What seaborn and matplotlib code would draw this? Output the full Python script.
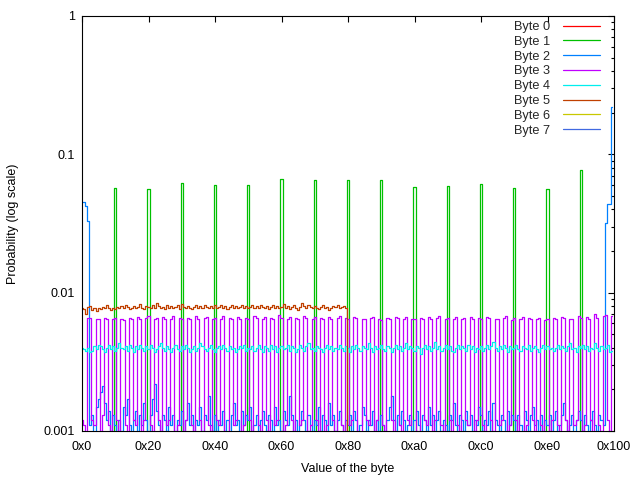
import numpy as np
import pandas as pd
import matplotlib
matplotlib.use("Agg")
import matplotlib.pyplot as plt
import seaborn as sns

sns.set_theme(style="white")
plt.rcParams['font.family'] = ['Liberation Sans', 'DejaVu Sans']

# ---------------- data ----------------
byte_values = list(range(256))
series_names = ["Byte 0", "Byte 1", "Byte 2", "Byte 3", "Byte 4", "Byte 5", "Byte 6", "Byte 7"]
series_colors = ["#ff0000", "#00c000", "#0080ff", "#c000ff", "#00eeee", "#c04000", "#c8c800", "#4169e1"]

# values below 0.001 are not readable in the picture -> stored as 0
byte0 = [0.0] * 256
byte6 = [0.0] * 256
byte7 = [0.0] * 256

byte1_spike_positions = [0x10, 0x20, 0x30, 0x40, 0x50, 0x60, 0x70, 0x80,
                         0x90, 0xa0, 0xb0, 0xc0, 0xd0, 0xe0, 0xf0]
byte1_spike_values = [0.0568, 0.0558, 0.0617, 0.0597, 0.0597, 0.0660, 0.0649, 0.0649,
                      0.0649, 0.0577, 0.0587, 0.0607, 0.0568, 0.0558, 0.0766]
byte1 = [0.0] * 256
for p, v in zip(byte1_spike_positions, byte1_spike_values):
    byte1[p] = v

byte2 = [
    .045, .045, .042, .033, .0011, .0013, .0009, .0015, .0017, .0019, .0021, .0016, .0012, .0014, .0010, .0013,
    .0011, .0009, .0012, .0010, .0015, .0013, .0017, .0011, .0009, .0012, .0014, .0010, .0013, .0011, .0016, .0012,
    .0010, .0013, .0017, .0022, .0014, .0011, .0009, .0013, .0012, .0010, .0015, .0011, .0013, .0009, .0012, .0011,
    .0014, .0010, .0012, .0016, .0011, .0013, .0009, .0012, .0011, .0015, .0010, .0013, .0012, .0018, .0011, .0010,
    .0013, .0009, .0012, .0011, .0014, .0010, .0012, .0009, .0013, .0016, .0011, .0012, .0010, .0014, .0011, .0013,
    .0012, .0015, .0010, .0011, .0013, .0009, .0012, .0014, .0011, .0010, .0013, .0012, .0009, .0015, .0011, .0012,
    .0010, .0014, .0012, .0011, .0018, .0013, .0010, .0012, .0009, .0011, .0014, .0012, .0010, .0013, .0011, .0009,
    .0012, .0011, .0015, .0010, .0013, .0012, .0009, .0016, .0011, .0013, .0010, .0012, .0014, .0011, .0009, .0012,
    .0011, .0013, .0010, .0014, .0012, .0009, .0011, .0015, .0013, .0010, .0012, .0011, .0014, .0009, .0012, .0010,
    .0013, .0011, .0009, .0012, .0015, .0018, .0012, .0010, .0013, .0011, .0014, .0012, .0009, .0011, .0013, .0010,
    .0012, .0014, .0011, .0009, .0013, .0012, .0010, .0015, .0011, .0013, .0009, .0012, .0014, .0010, .0012, .0011,
    .0010, .0013, .0012, .0016, .0011, .0009, .0013, .0012, .0010, .0014, .0011, .0013, .0009, .0012, .0011, .0015,
    .0013, .0010, .0012, .0011, .0014, .0009, .0016, .0012, .0011, .0010, .0013, .0012, .0009, .0014, .0011, .0013,
    .0012, .0010, .0013, .0011, .0009, .0014, .0012, .0010, .0013, .0015, .0011, .0012, .0009, .0013, .0010, .0012,
    .0011, .0013, .0010, .0012, .0014, .0009, .0011, .0013, .0016, .0012, .0010, .0011, .0013, .0009, .0012, .0014,
    .0012, .0010, .0013, .0011, .0009, .0012, .0014, .0011, .0010, .0013, .0012, .0011, .032, .044, .044, .22,
]

byte3 = [
    .0012, .0011, .0009, .0066, .0066, .0012, .0011, .0065, .0064, .0010, .0013, .0066, .0065, .0011, .0010, .0065,
    .0066, .0012, .0010, .0065, .0063, .0011, .0009, .0066, .0064, .0012, .0011, .0067, .0065, .0010, .0012, .0066,
    .0068, .0011, .0009, .0065, .0066, .0012, .0010, .0067, .0064, .0011, .0012, .0065, .0068, .0010, .0011, .0066,
    .0065, .0009, .0012, .0066, .0064, .0011, .0010, .0068, .0065, .0012, .0009, .0066, .0067, .0011, .0010, .0065,
    .0066, .0012, .0011, .0064, .0068, .0010, .0009, .0066, .0065, .0011, .0012, .0067, .0064, .0010, .0011, .0066,
    .0065, .0012, .0010, .0068, .0066, .0011, .0009, .0065, .0067, .0012, .0010, .0066, .0064, .0011, .0012, .0069,
    .0066, .0010, .0011, .0065, .0067, .0012, .0009, .0066, .0064, .0011, .0012, .0068, .0066, .0010, .0011, .0065,
    .0067, .0012, .0010, .0066, .0064, .0009, .0011, .0067, .0065, .0012, .0010, .0066, .0068, .0011, .0009, .0066,
    .0065, .0011, .0012, .0067, .0066, .0010, .0009, .0065, .0064, .0012, .0011, .0066, .0067, .0010, .0012, .0065,
    .0063, .0011, .0010, .0066, .0065, .0012, .0009, .0067, .0066, .0011, .0010, .0064, .0067, .0012, .0011, .0065,
    .0064, .0010, .0009, .0066, .0065, .0012, .0011, .0067, .0064, .0010, .0012, .0066, .0068, .0011, .0009, .0065,
    .0066, .0012, .0010, .0064, .0067, .0011, .0009, .0065, .0066, .0012, .0011, .0067, .0064, .0010, .0012, .0066,
    .0065, .0011, .0009, .0067, .0066, .0012, .0010, .0064, .0065, .0011, .0012, .0066, .0068, .0010, .0011, .0063,
    .0066, .0012, .0010, .0065, .0067, .0009, .0011, .0066, .0064, .0012, .0010, .0065, .0066, .0011, .0009, .0063,
    .0064, .0010, .0012, .0066, .0065, .0011, .0009, .0067, .0066, .0012, .0010, .0064, .0065, .0011, .0012, .0068,
    .0066, .0010, .0011, .0067, .0064, .0012, .0009, .0070, .0066, .0011, .0010, .0068, .0069, .0012, .0010, .0068,
]

byte4 = [
    .0040, .0039, .0038, .0040, .0037, .0038, .0041, .0039, .0042, .0041, .0039, .0037, .0040, .0042, .0039, .0041,
    .0038, .0040, .0043, .0040, .0039, .0041, .0038, .0042, .0040, .0037, .0041, .0039, .0042, .0040, .0038, .0041,
    .0039, .0042, .0040, .0037, .0039, .0041, .0043, .0040, .0038, .0041, .0039, .0037, .0040, .0042, .0039, .0038,
    .0041, .0039, .0042, .0040, .0037, .0039, .0041, .0038, .0040, .0043, .0041, .0039, .0038, .0040, .0042, .0039,
    .0037, .0040, .0041, .0039, .0042, .0040, .0038, .0041, .0039, .0040, .0037, .0039, .0041, .0040, .0042, .0038,
    .0040, .0039, .0041, .0038, .0040, .0042, .0039, .0037, .0041, .0040, .0038, .0042, .0039, .0041, .0037, .0040,
    .0041, .0039, .0040, .0042, .0038, .0041, .0040, .0037, .0039, .0042, .0040, .0038, .0041, .0043, .0039, .0040,
    .0038, .0041, .0040, .0039, .0037, .0040, .0042, .0039, .0041, .0038, .0040, .0039, .0042, .0040, .0038, .0041,
    .0040, .0037, .0041, .0039, .0042, .0040, .0038, .0041, .0040, .0039, .0043, .0040, .0037, .0041, .0039, .0040,
    .0042, .0039, .0038, .0041, .0040, .0037, .0040, .0042, .0039, .0041, .0038, .0040, .0043, .0039, .0041, .0040,
    .0038, .0041, .0040, .0036, .0040, .0042, .0039, .0041, .0038, .0040, .0044, .0039, .0041, .0038, .0040, .0042,
    .0039, .0041, .0038, .0037, .0040, .0042, .0039, .0041, .0040, .0038, .0042, .0039, .0041, .0037, .0040, .0039,
    .0041, .0038, .0040, .0042, .0039, .0041, .0044, .0040, .0038, .0041, .0039, .0042, .0040, .0037, .0041, .0039,
    .0040, .0042, .0039, .0038, .0041, .0040, .0039, .0042, .0038, .0040, .0041, .0039, .0037, .0040, .0042, .0039,
    .0041, .0039, .0040, .0038, .0040, .0042, .0039, .0041, .0040, .0038, .0041, .0043, .0039, .0040, .0037, .0041,
    .0040, .0042, .0039, .0041, .0038, .0040, .0039, .0043, .0040, .0038, .0041, .0039, .0040, .0042, .0037, .0038,
]

byte5 = [
    .0077, .0076, .0070, .0079, .0080, .0075, .0077, .0074, .0078, .0076, .0079, .0078, .0081, .0077, .0075, .0078,
    .0076, .0079, .0078, .0080, .0077, .0082, .0079, .0076, .0078, .0080, .0077, .0079, .0083, .0078, .0076, .0080,
    .0079, .0077, .0081, .0078, .0084, .0080, .0077, .0079, .0076, .0082, .0078, .0080, .0077, .0079, .0081, .0076,
    .0083, .0079, .0077, .0080, .0078, .0076, .0079, .0081, .0077, .0080, .0078, .0082, .0079, .0077, .0080, .0078,
    .0081, .0077, .0079, .0082, .0078, .0080, .0076, .0079, .0081, .0078, .0080, .0077, .0079, .0082, .0078, .0080,
    .0077, .0079, .0081, .0078, .0080, .0077, .0082, .0079, .0078, .0080, .0076, .0079, .0081, .0078, .0080, .0077,
    .0079, .0083, .0078, .0080, .0076, .0079, .0081, .0077, .0075, .0079, .0084, .0080, .0078, .0081, .0079, .0077,
    .0080, .0078, .0076, .0079, .0081, .0077, .0079, .0075, .0078, .0080, .0079, .0081, .0077, .0079, .0080, .0078,
] + [0.0] * 128

series_values = [byte0, byte1, byte2, byte3, byte4, byte5, byte6, byte7]

xtick_positions = [0, 32, 64, 96, 128, 160, 192, 224, 256]
xtick_labels = ["0x0", "0x20", "0x40", "0x60", "0x80", "0xa0", "0xc0", "0xe0", "0x100"]
ytick_positions = [0.001, 0.01, 0.1, 1]
ytick_labels = ["0.001", "0.01", "0.1", "1"]

# ---------------- plot ----------------
fig = plt.figure(figsize=(6.4, 4.8), dpi=100)
ax = fig.add_axes([82 / 640, 49 / 480, 532 / 640, 415 / 480])

FLOOR = 1e-6
for name, vals, col in zip(series_names, series_values, series_colors):
    y = np.maximum(np.asarray(vals, dtype=float), FLOOR)
    sns.lineplot(x=byte_values, y=y, color=col, label=name, drawstyle="steps-mid",
                 linewidth=0.9, ax=ax, legend=False)

ax.set_yscale("log")
ax.set_ylim(0.001, 1)
ax.set_xlim(0, 256)
ax.set_xticks(xtick_positions)
ax.set_xticklabels(xtick_labels)
ax.set_yticks(ytick_positions)
ax.set_yticklabels(ytick_labels)
ax.yaxis.set_minor_locator(matplotlib.ticker.LogLocator(base=10, subs=np.arange(2, 10)))
ax.yaxis.set_minor_formatter(matplotlib.ticker.NullFormatter())

ax.tick_params(which="both", direction="in", top=True, right=True, colors="black",
               labelsize=9, width=0.8)
ax.tick_params(which="major", length=4.5)
ax.tick_params(which="minor", length=2.5)
ax.tick_params(axis="x", pad=7)
ax.tick_params(axis="y", pad=5)
for s in ax.spines.values():
    s.set_color("black")
    s.set_linewidth(0.8)

ax.set_xlabel("Value of the byte", fontsize=9, color="black")
ax.set_ylabel("Probability (log scale)", fontsize=9, color="black")
ax.xaxis.set_label_coords(0.5, (431 - 463) / 415)
ax.yaxis.set_label_coords((19 - 82) / 532, 0.5)

handles = ax.get_lines()[:8]
leg = fig.legend(handles, series_names, loc="upper right",
                 bbox_to_anchor=(600 / 640, 1 - 21 / 480),
                 frameon=False, markerfirst=False, fontsize=9.2,
                 handlelength=2.9, handletextpad=1.0, labelspacing=0.22,
                 borderpad=0, borderaxespad=0)

fig.savefig("out.png", dpi=100)
